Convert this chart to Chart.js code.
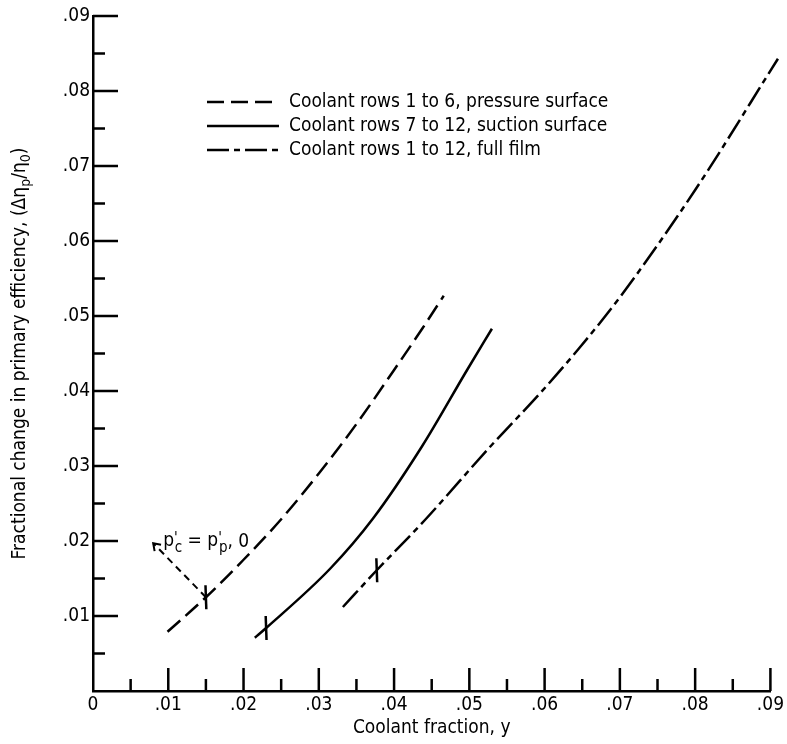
<!DOCTYPE html>
<html><head><meta charset="utf-8">
<script src="https://cdn.jsdelivr.net/npm/chart.js@4.4.1/dist/chart.umd.min.js"></script>
<style>html,body{margin:0;padding:0;background:#fff;}#wrap{width:787px;height:744px;}</style>
</head><body><div id="wrap"><canvas id="c" width="787" height="744"></canvas></div>
<script>
const FONT = '"Liberation Sans Narrow","DejaVu Sans Condensed","Arial Narrow",sans-serif';

// tick labels
const xTickLabels = ['0', '.01', '.02', '.03', '.04', '.05', '.06', '.07', '.08', '.09'];
const yTickLabels = ['', '.01', '.02', '.03', '.04', '.05', '.06', '.07', '.08', '.09'];
const xMajorTicks = [0.01, 0.02, 0.03, 0.04, 0.05, 0.06, 0.07, 0.08, 0.09];
const xMinorTicks = [0.005, 0.015, 0.025, 0.035, 0.045, 0.055, 0.065, 0.075, 0.085];
const yMajorTicks = [0.01, 0.02, 0.03, 0.04, 0.05, 0.06, 0.07, 0.08, 0.09];
const yMinorTicks = [0.005, 0.015, 0.025, 0.035, 0.045, 0.055, 0.065, 0.075, 0.085];
const xAxisTitle = 'Coolant fraction, y';

// series
const seriesLabels = ['Coolant rows 1 to 6, pressure surface', 'Coolant rows 7 to 12, suction surface', 'Coolant rows 1 to 12, full film'];
const pressureX = [0.0099, 0.015, 0.020, 0.025, 0.030, 0.035, 0.040, 0.0438, 0.0466];
const pressureY = [0.0079, 0.0125, 0.0175, 0.0229, 0.0290, 0.0356, 0.0428, 0.0484, 0.0527];
const suctionX = [0.0215, 0.023, 0.0315, 0.0372, 0.0437, 0.0497, 0.053];
const suctionY = [0.0071, 0.0084, 0.0163, 0.0230, 0.0326, 0.0428, 0.0483];
const fullFilmX = [0.0332, 0.0377, 0.0441, 0.0527, 0.0594, 0.0645, 0.070, 0.080, 0.091];
const fullFilmY = [0.0112, 0.0161, 0.0228, 0.0325, 0.0397, 0.0456, 0.0525, 0.0668, 0.0843];

// reference-point markers on each curve
const markerX = [0.015, 0.023, 0.0377];
const markerY = [0.0125, 0.0084, 0.0161];

// annotation arrow (from marker to label)
const arrowFrom = [0.015, 0.0125];
const arrowTo = [0.0080, 0.0197];

const pts = (xs, ys) => xs.map((x, i) => ({x: x, y: ys[i]}));

const axisPlugin = {
  id: 'axisExtras',
  afterDraw(chart) {
    const ctx = chart.ctx;
    const xs = chart.scales.x, ys = chart.scales.y;
    const L = chart.chartArea.left, B = chart.chartArea.bottom;
    ctx.save();
    ctx.strokeStyle = '#000';
    ctx.lineWidth = 2.5;
    ctx.lineCap = 'butt';
    // inward ticks
    ctx.beginPath();
    xMajorTicks.forEach(v => { const p = xs.getPixelForValue(v); ctx.moveTo(p, B); ctx.lineTo(p, B - 23); });
    xMinorTicks.forEach(v => { const p = xs.getPixelForValue(v); ctx.moveTo(p, B); ctx.lineTo(p, B - 12); });
    yMajorTicks.forEach(v => { const p = ys.getPixelForValue(v); ctx.moveTo(L, p); ctx.lineTo(L + 25, p); });
    yMinorTicks.forEach(v => { const p = ys.getPixelForValue(v); ctx.moveTo(L, p); ctx.lineTo(L + 12, p); });
    ctx.stroke();

    // annotation arrow
    const fx = xs.getPixelForValue(arrowFrom[0]), fy = ys.getPixelForValue(arrowFrom[1]);
    const tx = xs.getPixelForValue(arrowTo[0]), ty = ys.getPixelForValue(arrowTo[1]);
    ctx.lineWidth = 2;
    ctx.setLineDash([7, 5]);
    ctx.beginPath(); ctx.moveTo(fx, fy); ctx.lineTo(tx, ty); ctx.stroke();
    ctx.setLineDash([]);
    const ang = Math.atan2(fy - ty, fx - tx);
    ctx.beginPath();
    ctx.moveTo(tx + 8 * Math.cos(ang - 0.6), ty + 8 * Math.sin(ang - 0.6));
    ctx.lineTo(tx, ty);
    ctx.lineTo(tx + 8 * Math.cos(ang + 0.6), ty + 8 * Math.sin(ang + 0.6));
    ctx.stroke();

    // annotation text p'c = p'p,0
    ctx.fillStyle = '#000';
    ctx.textBaseline = 'alphabetic';
    ctx.textAlign = 'left';
    let x = tx + 10; const base = ty + 3;
    const big = '19px ' + FONT, small = '15px ' + FONT;
    const seg = (t, f, dy) => { ctx.font = f; ctx.fillText(t, x, base + dy); x += ctx.measureText(t).width; };
    seg('p', big, 0); seg("'", small, -3); x -= 3; seg('c', small, 6); seg(' = ', big, 0);
    seg('p', big, 0); seg("'", small, -3); x -= 3; seg('p', small, 6); seg(', 0', big, 1);

    // legend
    const lx0 = 207, lx1 = 279, tx0 = 289, rowY = [102, 126, 150];
    chart.data.datasets.slice(0, 3).forEach((ds, i) => {
      ctx.lineWidth = 2.5;
      ctx.setLineDash(ds.borderDash || []);
      ctx.beginPath(); ctx.moveTo(lx0, rowY[i]); ctx.lineTo(lx1, rowY[i]); ctx.stroke();
      ctx.setLineDash([]);
      ctx.font = '19px ' + FONT;
      ctx.textBaseline = 'middle';
      ctx.fillText(ds.label, tx0, rowY[i]);
    });

    // y-axis title with subscripts
    ctx.save();
    ctx.translate(20, (chart.chartArea.top + chart.chartArea.bottom) / 2);
    ctx.rotate(-Math.PI / 2);
    ctx.textBaseline = 'middle';
    const parts = [['Fractional change in primary efficiency, (\u0394\u03b7', 0], ['p', 1], ['/\u03b7', 0], ['0', 1], [')', 0]];
    const fBig = '19px ' + FONT, fSmall = '14px ' + FONT;
    let total = 0;
    parts.forEach(p => { ctx.font = p[1] ? fSmall : fBig; total += ctx.measureText(p[0]).width; });
    let px = -total / 2;
    parts.forEach(p => { ctx.font = p[1] ? fSmall : fBig; ctx.fillText(p[0], px, p[1] ? 6 : 0); px += ctx.measureText(p[0]).width; });
    ctx.restore();

    ctx.restore();
  }
};

new Chart(document.getElementById('c'), {
  type: 'line',
  data: {
    datasets: [
      { label: seriesLabels[0], data: pts(pressureX, pressureY), borderColor: '#000', borderWidth: 2.5, borderDash: [17, 7], pointRadius: 0, fill: false, cubicInterpolationMode: 'monotone', clip: false },
      { label: seriesLabels[1], data: pts(suctionX, suctionY), borderColor: '#000', borderWidth: 2.5, pointRadius: 0, fill: false, cubicInterpolationMode: 'monotone', clip: false },
      { label: seriesLabels[2], data: pts(fullFilmX, fullFilmY), borderColor: '#000', borderWidth: 2.5, borderDash: [22, 5, 6, 5], pointRadius: 0, fill: false, cubicInterpolationMode: 'monotone', clip: false },
      { label: 'markers', data: pts(markerX, markerY), showLine: false, pointStyle: 'line', rotation: 88, pointRadius: 12, borderColor: '#000', borderWidth: 2.5, clip: false }
    ]
  },
  options: {
    responsive: false,
    animation: false,
    layout: { padding: { top: 16, right: 16, left: 0, bottom: 0 } },
    plugins: { legend: { display: false }, tooltip: { enabled: false } },
    scales: {
      x: {
        type: 'linear', min: 0, max: 0.09,
        ticks: { stepSize: 0.01, autoSkip: false, maxRotation: 0, padding: 3, color: '#000', font: { family: FONT, size: 19 }, callback: (v, i) => xTickLabels[i] },
        grid: { drawOnChartArea: false, drawTicks: false },
        border: { color: '#000', width: 2.5 },
        title: { display: true, text: xAxisTitle, color: '#000', font: { family: FONT, size: 19 }, padding: { top: 0, bottom: 5 } },
        afterFit: s => { s.height = 53; }
      },
      y: {
        type: 'linear', min: 0, max: 0.09,
        ticks: { stepSize: 0.01, autoSkip: false, padding: 3, color: '#000', font: { family: FONT, size: 19 }, callback: (v, i) => yTickLabels[i] },
        grid: { drawOnChartArea: false, drawTicks: false },
        border: { color: '#000', width: 2.5 },
        afterFit: s => { s.width = 93; }
      }
    }
  },
  plugins: [axisPlugin]
});
</script></body></html>
